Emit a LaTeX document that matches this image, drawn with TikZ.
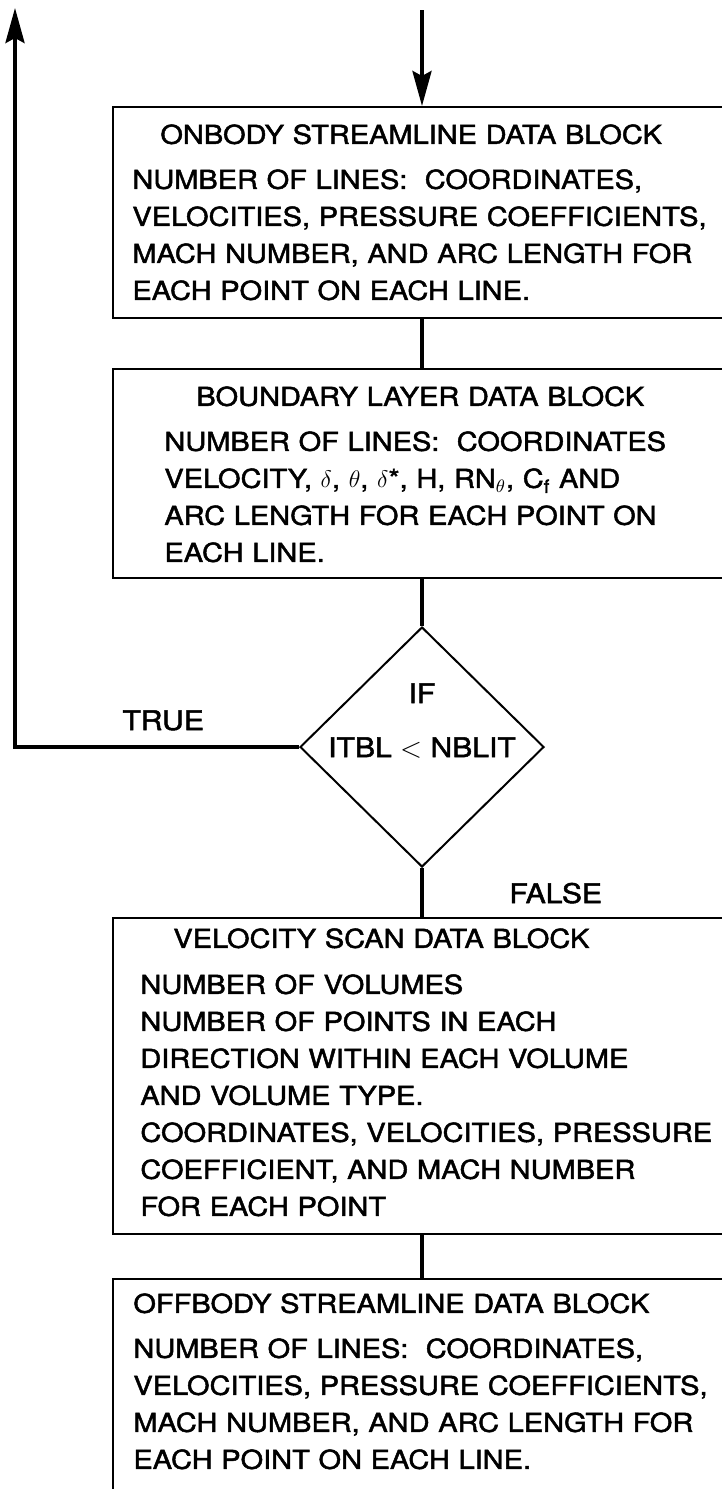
\documentclass[tikz,border=0pt]{standalone}
\usepackage{fontspec}
\setmainfont{TeX Gyre Heros}[FakeStretch=1.115, FakeBold=1.8]
\usepackage{tikz}
\usetikzlibrary{shapes.geometric, arrows.meta}
\tikzset{%
    block/.style={%
        draw, rectangle, anchor=north west, minimum width=344pt, line width=1.2pt
    }
}
\tikzset{%
    blocktext/.style={%
        anchor=north west, inner sep=0pt, align=left, text width=330pt,
        font=\fontsize{13}{18.5}\selectfont
    }
}
\tikzstyle{word}=[inner sep=0pt, font=\fontsize{13.5}{15}\selectfont]

\begin{document}
\begin{tikzpicture}[x=0.5pt,y=-0.5pt]
  \useasboundingbox (0,0) rectangle (722,1489);
  \clip (0,0) rectangle (722,1489);

  % blocks
  \node[block, minimum height=105.5pt] (ONB) at (112,106) {};
  \node[block, minimum height=104.5pt] (BLD) at (112,368) {};
  \node[draw, diamond, minimum width=122pt, minimum height=120pt, inner sep=0pt, line width=1pt] (IFD) at (422,747) {};
  \node[block, minimum height=158pt] (VSD) at (112,917) {};
  \node[block, minimum height=130pt] (OFB) at (112,1278) {};

  \node[blocktext] (ONBtxt) at ([xshift=10pt,yshift=-9pt]ONB.north west) {\hspace*{14pt}ONBODY STREAMLINE DATA BLOCK\\[4pt]
    NUMBER OF LINES:\ \ COORDINATES,\\
    VELOCITIES, PRESSURE COEFFICIENTS,\\
    MACH NUMBER, AND ARC LENGTH FOR\\
    EACH POINT ON EACH LINE.};

  \node[blocktext] (BLDtxt) at ([xshift=26pt,yshift=-9pt]BLD.north west) {\hspace*{16pt}BOUNDARY LAYER DATA BLOCK\\[4pt]
    NUMBER OF LINES:\ \ COORDINATES\\
    VELOCITY, $\delta$, $\theta$, $\delta$*, H, RN$_\theta$, C\textsubscript{f} AND\\
    ARC LENGTH FOR EACH POINT ON\\
    EACH LINE.};

  \node[blocktext] (VSDtxt) at ([xshift=14pt,yshift=-5.5pt]VSD.north west) {\hspace*{16.5pt}VELOCITY SCAN DATA BLOCK\\[4.5pt]
    NUMBER OF VOLUMES\\
    NUMBER OF POINTS IN EACH\\
    DIRECTION WITHIN EACH VOLUME\\
    AND VOLUME TYPE.\\
    COORDINATES, VELOCITIES, PRESSURE\\
    COEFFICIENT, AND MACH NUMBER\\
    FOR EACH POINT};

  \node[blocktext] (OFBtxt) at ([xshift=10.5pt,yshift=-7.5pt]OFB.north west) {OFFBODY STREAMLINE DATA BLOCK\\[4pt]
    NUMBER OF LINES:\ \ COORDINATES,\\
    VELOCITIES, PRESSURE COEFFICIENTS,\\
    MACH NUMBER, AND ARC LENGTH FOR\\
    EACH POINT ON EACH LINE.};

  % decision
  \node[word, anchor=base] (IFtxt) at ([yshift=22pt]IFD.center) {IF};
  \node[word, anchor=base] (CMPtxt) at ([yshift=-5pt]IFD.center) {ITBL $<$ NBLIT};
  \node[word, anchor=base west] (TRUEtxt) at (122,730) {TRUE};
  \node[word, anchor=base west] (FALSEtxt) at (509,903) {FALSE};

  % flow lines
  \coordinate (start) at (422,10);
  \coordinate (back) at (15,8);
  \draw[->,>={Stealth[length=17.5pt,width=9.5pt,inset=2.5pt]},line width=2pt] (start) -- (ONB.north -| start);
  \draw[line width=2pt] (ONB.south -| IFD) -- (BLD.north -| IFD);
  \draw[line width=2pt] (BLD.south -| IFD) -- (IFD.north);
  \draw[line width=2pt] (IFD.south) -- (VSD.north -| IFD);
  \draw[line width=2pt] (VSD.south -| IFD) -- (OFB.north -| IFD);
  \draw[->,>={Stealth[length=17.5pt,width=9.5pt,inset=2.5pt]},line width=2pt] (IFD.west) -| (back);
\end{tikzpicture}
\end{document}
